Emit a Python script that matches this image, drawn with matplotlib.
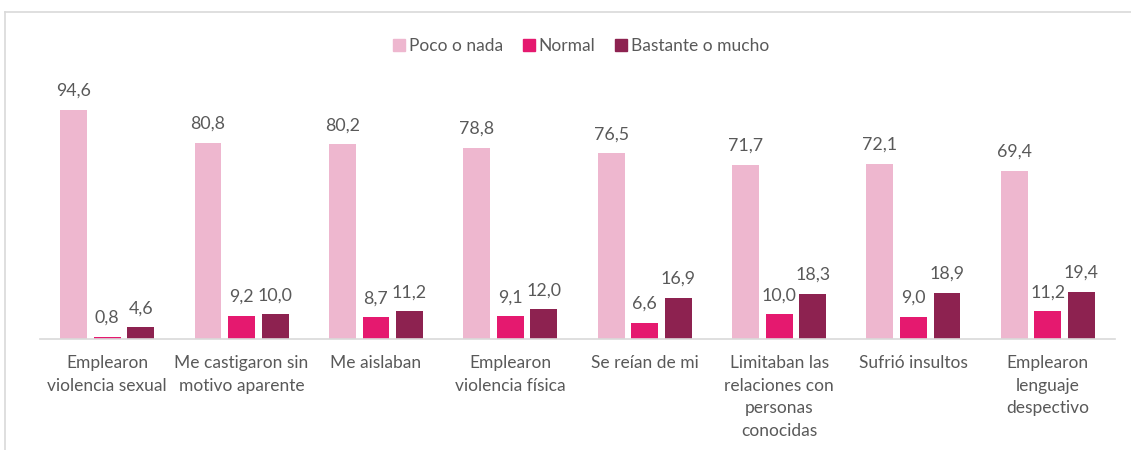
import matplotlib
matplotlib.use("Agg")
import matplotlib.pyplot as plt
import numpy as np
from matplotlib.lines import Line2D

categories = ["Emplearon\nviolencia sexual", "Me castigaron sin\nmotivo aparente", "Me aislaban",
              "Emplearon\nviolencia física", "Se reían de mi",
              "Limitaban las\nrelaciones con\npersonas\nconocidas", "Sufrió insultos",
              "Emplearon\nlenguaje\ndespectivo"]
series_names = ["Poco o nada", "Normal", "Bastante o mucho"]
poco = [94.6, 80.8, 80.2, 78.8, 76.5, 71.7, 72.1, 69.4]
normal = [0.8, 9.2, 8.7, 9.1, 6.6, 10.0, 9.0, 11.2]
bastante = [4.6, 10.0, 11.2, 12.0, 16.9, 18.3, 18.9, 19.4]

colors = ["#EEB7CF", "#E5196F", "#8D2250"]
txt = "#595959"
plt.rcParams['font.family'] = ['Lato', 'DejaVu Sans']

fig = plt.figure(figsize=(11.31, 4.5), dpi=100)
ax = fig.add_axes([40/1131, 1-338.5/450, 1075/1131, 242/450])
x = np.arange(len(categories))
w = 0.2
offs = [-0.25, 0, 0.25]
for vals, off, c, name in zip([poco, normal, bastante], offs, colors, series_names):
    bars = ax.bar(x + off, vals, w, color=c, label=name, zorder=2)
    for b, v in zip(bars, vals):
        ax.annotate(f"{v:.1f}".replace(".", ","), (b.get_x() + b.get_width()/2, v),
                    xytext=(0, 8), textcoords="offset points", ha="center", va="bottom",
                    fontsize=12.8, color=txt)

ax.set_xlim(-0.5, len(categories) - 0.5)
ax.set_ylim(0, 100)
ax.set_yticks([])
ax.set_xticks(x)
ax.set_xticklabels(categories, fontsize=12.5, color=txt, linespacing=1.5)
ax.tick_params(axis='x', length=0, pad=12)
for s in ["top", "right", "left"]:
    ax.spines[s].set_visible(False)
ax.spines["bottom"].set_color("#D9D9D9")
ax.spines["bottom"].set_linewidth(1.2)

handles = [Line2D([], [], marker='s', linestyle='none', markersize=8.5, markerfacecolor=c,
                  markeredgecolor=c) for c in colors]
fig.legend(handles, series_names, loc="center", bbox_to_anchor=(580/1131, 1-46/450), ncol=3,
           frameon=False, fontsize=12.5, labelcolor=txt, handletextpad=0.05, columnspacing=1.0,
           handlelength=1.0)

# outer frame (partially visible)
fig.add_artist(Line2D([5/1131, 5/1131], [0, 1-12/450], transform=fig.transFigure, color="#D9D9D9", lw=1.2))
fig.add_artist(Line2D([5/1131, 1], [1-12/450, 1-12/450], transform=fig.transFigure, color="#D9D9D9", lw=1.2))

fig.savefig("out.png", dpi=100)
